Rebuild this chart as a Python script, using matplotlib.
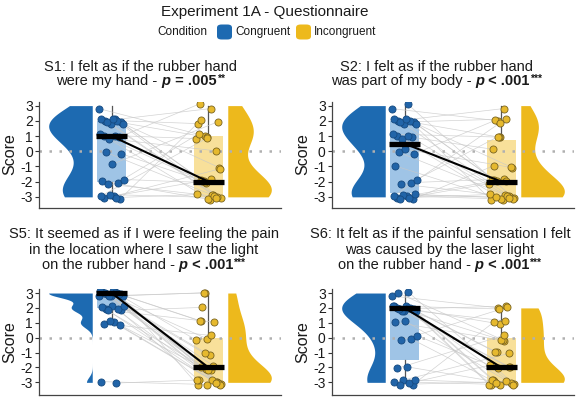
import numpy as np
import matplotlib
matplotlib.use("Agg")
import matplotlib.pyplot as plt
from matplotlib.patches import FancyBboxPatch, Rectangle

plt.rcParams['font.family'] = ['Liberation Sans', 'DejaVu Sans']
plt.rcParams['axes.unicode_minus'] = False

# ---- data: one score per participant (paired across conditions) ----
conditions = ['Congruent', 'Incongruent']
yticks = [-3, -2, -1, 0, 1, 2, 3]

s1_cong = [3, 2, 2, 2, 2, 2, 2, 2, 2, 2, 1, 1, 1, 1, 1, 0, 0, -1, -2, -2,
           -2, -2, -3, -3, -3, -3, -3, -3]
s1_incong = [1, -3, 3, -2, -3, 1, 2, -3, -2, -1, -3, 3, 0, -2, 1, -3, -2, 2,
             -3, 1, -3, -2, -1, -2, 2, -3, 1, -3]

s2_cong = [3, 3, 2, 2, 2, 2, 2, 2, 2, 2, 1, 1, 1, 1, 1, 0, 0, 0, -1, -2,
           -2, -2, -3, -3, -3, -3, -3, -3, -3, -3]
s2_incong = [2, -3, 3, -2, -3, 1, -3, 2, -2, -1, -3, 0, -3, 1, -2, -3, 2, -1,
             -3, -2, -3, 1, -3, -2, -1, -3, 2, -3, -2, -3]

s5_cong = [3, 3, 3, 3, 3, 3, 3, 3, 3, 3, 3, 3, 3, 3, 3, 2, 2, 2, 2, 2, 2, 2,
           1, 1, 1, 1, -3, -3]
s5_incong = [3, -3, -2, 1, -3, 0, -3, -2, 3, -3, -1, 1, -3, -2, 0, -3, 2, -3,
             -2, -3, 1, -1, -3, 0, -2, -3, -3, -3]

s6_cong = [3, 3, 3, 2, 2, 2, 2, 2, 2, 2, 2, 2, 2, 2, 2, 2, 2, 1, 1, 0, 0, 0,
           -2, -2, -3, -3, -3, -3, -3, -3]
s6_incong = [2, -3, 0, -3, -2, 1, -3, 2, -1, -3, 0, -3, -2, 2, -3, 1, -1, -3,
             0, -3, 2, -2, -3, 0, 1, -1, -3, -2, -3, -3]

# title lines: list of segments (text, kind) with kind 'n' normal, 'p' bold italic,
# 'b' bold, 's' bold superscript stars
s1_title = [[('S1: I felt as if the rubber hand', 'n')],
            [('were my hand - ', 'n'), ('p', 'p'), (' = .005', 'b'), ('**', 's')]]
s2_title = [[('S2: I felt as if the rubber hand', 'n')],
            [('was part of my body - ', 'n'), ('p', 'p'), (' < .001', 'b'), ('***', 's')]]
s5_title = [[('S5: It seemed as if I were feeling the pain', 'n')],
            [('in the location where I saw the light', 'n')],
            [('on the rubber hand - ', 'n'), ('p', 'p'), (' < .001', 'b'), ('***', 's')]]
s6_title = [[('S6: It felt as if the painful sensation I felt', 'n')],
            [('was caused by the laser light', 'n')],
            [('on the rubber hand - ', 'n'), ('p', 'p'), (' < .001', 'b'), ('***', 's')]]

BLUE = '#1D6AB1'
YELLOW = '#EDB91C'
BLUE_BOX = '#9FC4E6'
YELLOW_BOX = '#F8E09A'
BLUE_PT = '#2164A8'
YELLOW_PT = '#E6B92E'

W, H = 578, 397
fig = plt.figure(figsize=(W / 100, H / 100), dpi=100)


def kde(vals, grid):
    # gaussian kernel, nrd0 bandwidth, trimmed to the data range
    v = np.asarray(vals, float)
    sd = v.std(ddof=1)
    iqr = np.subtract(*np.percentile(v, [75, 25]))
    spread = min(sd, iqr / 1.34) if iqr > 0 else sd
    bw = 0.9 * spread * len(v) ** (-0.2)
    return np.exp(-0.5 * ((grid[:, None] - v[None, :]) / bw) ** 2).sum(axis=1)


def rich_line(xc, ypx, parts, size):
    r = fig.canvas.get_renderer()
    styles = {'n': dict(weight='normal', style='normal'),
              'p': dict(weight='bold', style='italic'),
              'b': dict(weight='bold', style='normal'),
              's': dict(weight='bold', style='normal')}
    arts, widths = [], []
    for txt, kind in parts:
        fs = size * 0.7 if kind == 's' else size
        kw = styles[kind]
        probe = fig.text(0, 0, '|' + txt + '|', fontsize=fs, **kw)
        ref = fig.text(0, 0, '||', fontsize=fs, **kw)
        w = probe.get_window_extent(r).width - ref.get_window_extent(r).width
        probe.remove()
        ref.remove()
        dy = 3 if kind == 's' else 0
        t = fig.text(0, 1 - (ypx - dy) / H, txt, fontsize=fs, va='baseline',
                     ha='left', color='#1a1a1a', **kw)
        arts.append(t)
        widths.append(w + (1.5 if kind == 'b' else 0))
    x = xc - sum(widths) / 2
    for t, w in zip(arts, widths):
        t.set_x(x / W)
        x += w


def raincloud(ax, cong, incong):
    groups = [np.asarray(cong, float), np.asarray(incong, float)]
    n = len(cong)
    jx = [((np.arange(n) * 0.618034 + k * 0.37) % 1 - 0.5) * 0.26 for k in range(2)]
    jy = [((np.arange(n) * 0.754878 + k * 0.51) % 1 - 0.5) * 0.4 for k in range(2)]
    px = [1 + jx[0], 2 + jx[1]]
    py = [groups[0] + jy[0], groups[1] + jy[1]]

    # half violins
    for k, (v, col) in enumerate(zip(groups, [BLUE, YELLOW])):
        grid = np.linspace(v.min(), v.max(), 200)
        d = kde(v, grid)
        d = d / d.max() * 0.45
        if k == 0:
            ax.fill_betweenx(grid, 0.8 - d, 0.8, color=col, lw=0, zorder=1)
        else:
            ax.fill_betweenx(grid, 2.2, 2.2 + d, color=col, lw=0, zorder=1)

    ax.axhline(0, color='#b0b0b0', ls=(0, (1, 3)), lw=1.8, zorder=2.5)

    meds = []
    for k, (v, col) in enumerate(zip(groups, [BLUE_BOX, YELLOW_BOX])):
        q1, med, q3 = np.percentile(v, [25, 50, 75])
        iqr = q3 - q1
        lo = v[v >= q1 - 1.5 * iqr].min()
        hi = v[v <= q3 + 1.5 * iqr].max()
        c = k + 1
        ax.add_patch(Rectangle((c - 0.15, q1), 0.3, q3 - q1, facecolor=col,
                               edgecolor='none', zorder=2))
        ax.plot([c, c], [hi, q3], color='#555555', lw=0.9, zorder=2.2)
        ax.plot([c, c], [lo, q1], color='#555555', lw=0.9, zorder=2.2)
        meds.append(med)

    for i in range(n):
        ax.plot([px[0][i], px[1][i]], [py[0][i], py[1][i]], color='#c8c8c8',
                lw=0.5, alpha=0.8, zorder=3)

    ax.scatter(px[0], py[0], s=26, facecolor=BLUE_PT, edgecolor='#164a80',
               lw=0.6, zorder=4)
    ax.scatter(px[1], py[1], s=26, facecolor=YELLOW_PT, edgecolor='#7a6420',
               lw=0.6, zorder=4)

    for k, med in enumerate(meds):
        ax.plot([k + 1 - 0.16, k + 1 + 0.16], [med, med], color='black', lw=3.8,
                solid_capstyle='butt', zorder=5)
    ax.plot([1, 2], meds, color='black', lw=1.5, zorder=6)


panels = [
    (s1_cong, s1_incong, s1_title, 39, 207.5, (-3.7, 3.27), 141, [67, 81]),
    (s2_cong, s2_incong, s2_title, 332, 207.5, (-3.7, 3.27), 437, [67, 81]),
    (s5_cong, s5_incong, s5_title, 39, 395, (-3.85, 3.27), 144, [234, 250, 265]),
    (s6_cong, s6_incong, s6_title, 332, 395, (-3.85, 3.27), 440, [234, 250, 265]),
]

for cong, incong, title, left, bottom, ylim, tx, tys in panels:
    ax = fig.add_axes([left / W, 1 - bottom / H, 242 / W, 106 / H])
    raincloud(ax, cong, incong)
    ax.set_xlim(0.25, 2.75)
    ax.set_ylim(*ylim)
    ax.set_yticks(yticks)
    ax.set_xticks([])
    ax.tick_params(axis='y', labelsize=10, length=3, width=0.8, colors='#333333',
                   labelcolor='#1a1a1a', pad=1.5)
    for side in ['top', 'right']:
        ax.spines[side].set_visible(False)
    for side in ['left', 'bottom']:
        ax.spines[side].set_color('#444444')
        ax.spines[side].set_linewidth(0.9)
    ax.set_ylabel('Score', fontsize=11.5, color='#1a1a1a', labelpad=2)
    for line, ty in zip(title, tys):
        rich_line(tx, ty + 4, line, 10.5)

# overall title and legend
fig.text(265 / W, 1 - 12 / H, 'Experiment 1A - Questionnaire', fontsize=11,
         ha='center', va='center', color='#1a1a1a')
fig.text(157 / W, 1 - 32 / H, 'Condition', fontsize=8.5, ha='left', va='center',
         color='#1a1a1a')
for x0, col, lab in [(217, BLUE, conditions[0]), (296, YELLOW, conditions[1])]:
    fig.patches.append(FancyBboxPatch((x0 / W, 1 - 39.5 / H), 15 / W, 15 / H,
                                      boxstyle='round,pad=0,rounding_size=0.008',
                                      facecolor=col, edgecolor='none',
                                      transform=fig.transFigure, figure=fig))
    fig.text((x0 + 18) / W, 1 - 32 / H, lab, fontsize=8.5, ha='left', va='center',
             color='#1a1a1a')

fig.savefig('out.png', dpi=100)
